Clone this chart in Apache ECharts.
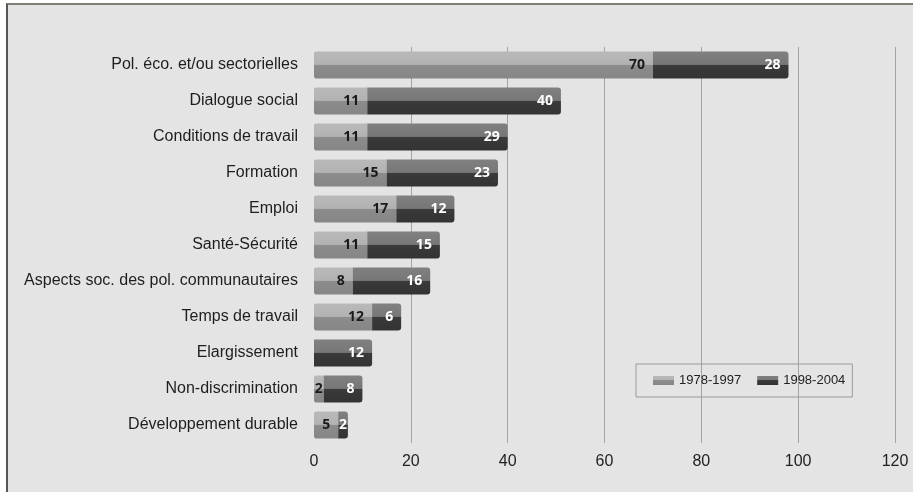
<!DOCTYPE html>
<html>
<head>
<meta charset="utf-8">
<script src="https://cdn.jsdelivr.net/npm/echarts@6/dist/echarts.min.js"></script>
<style>
  html, body { margin: 0; padding: 0; background: #ffffff; }
  #panel { position: absolute; left: 6px; top: 3px; width: 907px; height: 489px;
           background: #e4e4e4; border-left: 2px solid #55584f; border-top: 2px solid #7c7f78; box-sizing: border-box; }
  #chart { position: absolute; left: 0; top: 0; width: 913px; height: 492px; }
</style>
</head>
<body>
<div id="panel"></div>
<div id="chart"></div>
<script>
// Thèmes des textes du dialogue social, par période
const categories = [
  'Pol. éco. et/ou sectorielles',
  'Dialogue social',
  'Conditions de travail',
  'Formation',
  'Emploi',
  'Santé-Sécurité',
  'Aspects soc. des pol. communautaires',
  'Temps de travail',
  'Elargissement',
  'Non-discrimination',
  'Développement durable'
];
const period1 = [70, 11, 11, 15, 17, 11, 8, 12, 0, 2, 5];   // 1978-1997
const period2 = [28, 40, 29, 23, 12, 15, 16, 6, 12, 8, 2];  // 1998-2004
const xTicks = [0, 20, 40, 60, 80, 100, 120];

// Two-tone fill giving each bar a rounded, tube-like look
function tube(top, topMid, botMid, bottom) {
  return new echarts.graphic.LinearGradient(0, 0, 0, 1, [
    { offset: 0, color: top },
    { offset: 0.48, color: topMid },
    { offset: 0.5, color: botMid },
    { offset: 1, color: bottom }
  ]);
}
const lightFill = tube('#b9b9b9', '#b2b2b2', '#8c8c8c', '#868686');
const darkFill = tube('#808080', '#777777', '#3a3a3a', '#333333');

const chart = echarts.init(document.getElementById('chart'), null, { renderer: 'canvas' });

const labelFont = { fontFamily: 'Open Sans', fontWeight: 'bold', fontSize: 14 };
// no grid line at zero, the bars start there
const gridColors = xTicks.map(v => v === 0 ? 'rgba(0,0,0,0)' : '#a4a4a4');

// narrow segments keep their label tight against the segment end
function withLabels(values) {
  return values.map(v => v > 0 && v <= 2 ? { value: v, label: { distance: 1 } } : v);
}

chart.setOption({
  backgroundColor: 'transparent',
  animation: false,
  grid: { left: 314, right: 18, top: 47, bottom: 49 },
  legend: {
    left: 636, top: 364,
    padding: [10, 7, 10, 17],
    itemGap: 16,
    itemWidth: 21, itemHeight: 9,
    borderColor: '#9a9a9a', borderWidth: 1,
    icon: 'rect',
    textStyle: { fontFamily: 'Liberation Sans', fontSize: 13, color: '#222' },
    data: ['1978-1997', '1998-2004']
  },
  xAxis: {
    type: 'value',
    min: 0, max: 120, interval: 20,
    axisLine: { show: false },
    axisTick: { show: false },
    axisLabel: {
      fontFamily: 'Liberation Sans', fontSize: 16, color: '#222', margin: 11,
      formatter: v => xTicks.includes(v) ? String(v) : ''
    },
    splitLine: { show: true, lineStyle: { color: gridColors, width: 1 } }
  },
  yAxis: {
    type: 'category',
    data: categories,
    inverse: true,
    axisLine: { show: false },
    axisTick: { show: false },
    axisLabel: { fontFamily: 'Liberation Sans', fontSize: 16, color: '#1e1e1e', margin: 16 }
  },
  series: [
    {
      name: '1978-1997', type: 'bar', stack: 'total',
      data: withLabels(period1), barWidth: 27,
      itemStyle: { color: lightFill, borderRadius: [2, 0, 0, 2] },
      label: {
        show: true, position: 'insideRight', distance: 8, color: '#1a1a1a', ...labelFont,
        formatter: p => p.value > 0 ? String(p.value) : ''
      }
    },
    {
      name: '1998-2004', type: 'bar', stack: 'total',
      data: withLabels(period2), barWidth: 27,
      itemStyle: { color: darkFill, borderRadius: [0, 3, 3, 0] },
      label: {
        show: true, position: 'insideRight', distance: 8, color: '#ffffff', ...labelFont,
        formatter: p => p.value > 0 ? String(p.value) : ''
      }
    }
  ]
});
</script>
</body>
</html>
